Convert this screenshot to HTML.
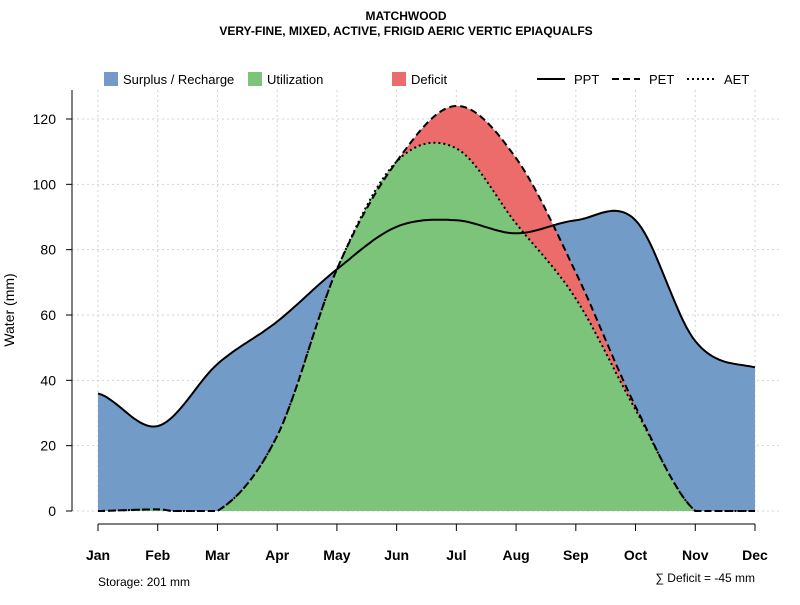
<!DOCTYPE html>
<html><head><meta charset="utf-8"><style>
body{margin:0;background:#fff;}
svg text{font-family:"Liberation Sans",sans-serif;}
</style></head><body>
<svg id="chart" width="800" height="600" xmlns="http://www.w3.org/2000/svg">
<text x="406" y="20" text-anchor="middle" font-size="12" font-weight="bold">MATCHWOOD</text>
<text x="406" y="35" text-anchor="middle" font-size="12" font-weight="bold">VERY-FINE, MIXED, ACTIVE, FRIGID AERIC VERTIC EPIAQUALFS</text>
<g id="grid"></g>
<g id="areas"></g>
<g id="lines"></g>
<g id="axes"></g>
<text transform="translate(14,310) rotate(-90)" text-anchor="middle" font-size="14">Water (mm)</text>
<g font-size="13">
<rect x="104" y="72" width="14" height="14" fill="#729bc8"/>
<text x="123" y="84">Surplus / Recharge</text>
<rect x="248" y="72" width="14" height="14" fill="#7dc47b"/>
<text x="267" y="84">Utilization</text>
<rect x="392" y="72" width="14" height="14" fill="#ec6c6c"/>
<text x="411" y="84">Deficit</text>
<line x1="537" y1="79" x2="565" y2="79" stroke="#000" stroke-width="2"/>
<text x="574" y="84">PPT</text>
<line x1="612" y1="79" x2="640" y2="79" stroke="#000" stroke-width="2" stroke-dasharray="7,4"/>
<text x="649" y="84">PET</text>
<line x1="687" y1="79" x2="715" y2="79" stroke="#000" stroke-width="2" stroke-dasharray="2,3"/>
<text x="724" y="84">AET</text>
</g>
<text x="98" y="586" font-size="12">Storage: 201 mm</text>
<text x="755" y="582" text-anchor="end" font-size="12">∑ Deficit = -45 mm</text>
</svg>
<script>
const months=["Jan","Feb","Mar","Apr","May","Jun","Jul","Aug","Sep","Oct","Nov","Dec"];
const ppt=[36,26,45,58,74,87,89,85,89,89,52,44];
const pet=[0,0.5,0,23,74,107,124,108,73,32,0,0];
const aet=[0,0.5,0,23,74,107,111,88,65,31,0,0];
const yTicks=[0,20,40,60,80,100,120];
const NS="http://www.w3.org/2000/svg";
const X=i=>98+i*(755-98)/11;
const Y=v=>511-v*(511-119)/120;
function el(t,a,p){const e=document.createElementNS(NS,t);for(const k in a)e.setAttribute(k,a[k]);p.appendChild(e);return e;}
function smooth(arr){const pts=[];const n=arr.length;
for(let i=0;i<n-1;i++){const p0=arr[Math.max(0,i-1)],p1=arr[i],p2=arr[i+1],p3=arr[Math.min(n-1,i+2)];
for(let s=0;s<20;s++){const t=s/20,t2=t*t,t3=t2*t;
const v=0.5*((2*p1)+(-p0+p2)*t+(2*p0-5*p1+4*p2-p3)*t2+(-p0+3*p1-3*p2+p3)*t3);
pts.push([X(i+t),Y(Math.max(0,v))]);}}
pts.push([X(n-1),Y(arr[n-1])]);return pts;}
const toD=p=>p.map((q,i)=>(i?"L":"M")+q[0].toFixed(1)+","+q[1].toFixed(1)).join("");
const grid=document.getElementById("grid"),areas=document.getElementById("areas"),lines=document.getElementById("lines"),axes=document.getElementById("axes");
yTicks.forEach(v=>{const g=el("line",{x1:72,x2:782,y1:Y(v),y2:Y(v),stroke:"#d3d3d3","stroke-dasharray":"2,3"},grid);

const t=el("line",{x1:66,x2:72,y1:Y(v),y2:Y(v),stroke:"#000"},axes);

const l=el("text",{x:56,y:Y(v)+5,"text-anchor":"end","font-size":"14"},axes);l.textContent=v;
});
months.forEach((m,i)=>{const g=el("line",{x1:X(i),x2:X(i),y1:90,y2:511,stroke:"#d3d3d3","stroke-dasharray":"2,3"},grid);

const t=el("line",{x1:X(i),x2:X(i),y1:524,y2:531,stroke:"#000"},axes);

const l=el("text",{x:X(i),y:560,"text-anchor":"middle","font-size":"14","font-weight":"bold"},axes);l.textContent=m;
});
const ya=el("line",{x1:72,x2:72,y1:90,y2:511,stroke:"#000"},axes);
const xa=el("line",{x1:X(0),x2:X(11),y1:524,y2:524,stroke:"#000"},axes);
const P=smooth(ppt),E=smooth(pet),A=smooth(aet);
const close=p=>toD(p)+`L${X(11)},${Y(0)}L${X(0)},${Y(0)}Z`;
const a1=el("path",{d:close(P),fill:"#729bc8"},areas);
const a2=el("path",{d:close(E),fill:"#ec6c6c"},areas);
const a3=el("path",{d:close(A),fill:"#7dc47b"},areas);
const l1=el("path",{d:toD(P),fill:"none",stroke:"#000","stroke-width":2},lines);
const l2=el("path",{d:toD(E),fill:"none",stroke:"#000","stroke-width":2,"stroke-dasharray":"7,4"},lines);
const l3=el("path",{d:toD(A),fill:"none",stroke:"#000","stroke-width":2,"stroke-dasharray":"2,3"},lines);
</script>
</body></html>
